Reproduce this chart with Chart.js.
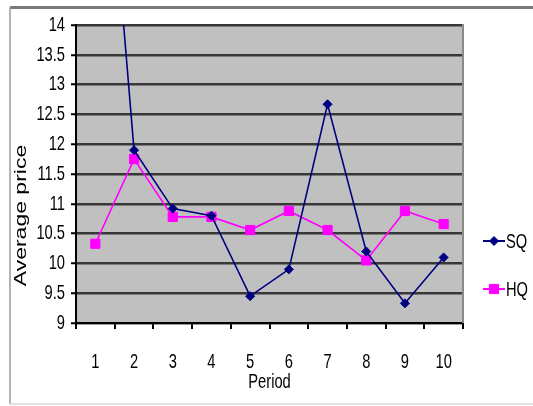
<!DOCTYPE html>
<html>
<head>
<meta charset="utf-8">
<script src="https://cdn.jsdelivr.net/npm/chart.js@4.4.0/dist/chart.umd.min.js"></script>
<style>
html,body{margin:0;padding:0;background:#fff;}
#wrap{width:533px;height:406px;}
</style>
</head>
<body>
<div id="wrap"><canvas id="c" width="533" height="406"></canvas></div>
<script>
const periods = ['1','2','3','4','5','6','7','8','9','10'];
const sqValues = [19.7, 11.9, 10.92, 10.8, 9.45, 9.9, 12.67, 10.2, 9.33, 10.1];
const hqValues = [10.33, 11.75, 10.78, 10.78, 10.56, 10.88, 10.56, 10.05, 10.88, 10.66];
const seriesNames = ['SQ', 'HQ'];
const yTitle = 'Average price';
const xTitle = 'Period';

const FONT = "'Liberation Sans', Arial, sans-serif";
const SQUEEZE = 0.7; // reference text is tall and narrow

const framePlugin = {
  id: 'frame',
  beforeInit(chart) {
    const ctx = chart.ctx;
    const orig = ctx.fillText;
    ctx.fillText = function (t, x, y, mw) {
      const m = this.getTransform();
      this.save();
      this.translate(x, y);
      if (Math.abs(m.b) > 0.5) this.scale(1, SQUEEZE); else this.scale(SQUEEZE, 1);
      if (mw !== undefined && mw !== null) orig.call(this, t, 0, 0, mw / SQUEEZE);
      else orig.call(this, t, 0, 0);
      this.restore();
    };
  },
  beforeDraw(chart) {
    const ctx = chart.ctx, a = chart.chartArea;
    ctx.save();
    ctx.fillStyle = '#ffffff';
    ctx.fillRect(0, 0, chart.width, chart.height);
    ctx.fillStyle = '#c0c0c0';
    ctx.fillRect(a.left, a.top, a.right - a.left, a.bottom - a.top);
    ctx.restore();
  },
  afterDraw(chart) {
    const ctx = chart.ctx, a = chart.chartArea;
    ctx.save();
    ctx.strokeStyle = '#8a8a8a';
    ctx.lineWidth = 2;
    ctx.beginPath();
    ctx.moveTo(a.right, a.top - 1);
    ctx.lineTo(a.right, a.bottom);
    ctx.stroke();
    ctx.strokeStyle = '#7a7a7a';
    ctx.lineWidth = 3;
    ctx.beginPath();
    ctx.moveTo(10, 7.5);
    ctx.lineTo(chart.width, 7.5);
    ctx.stroke();
    ctx.strokeStyle = '#9a9a9a';
    ctx.lineWidth = 1.5;
    ctx.beginPath();
    ctx.moveTo(10, 7);
    ctx.lineTo(10, 404);
    ctx.stroke();
    ctx.strokeStyle = '#d8d8d8';
    ctx.lineWidth = 1.5;
    ctx.beginPath();
    ctx.moveTo(10, 404);
    ctx.lineTo(chart.width, 404);
    ctx.stroke();
    const ys = [241, 289];
    chart.data.datasets.forEach((ds, i) => {
      const y = ys[i];
      ctx.strokeStyle = ds.borderColor;
      ctx.lineWidth = 2;
      ctx.beginPath();
      ctx.moveTo(483, y);
      ctx.lineTo(505, y);
      ctx.stroke();
      ctx.fillStyle = ds.pointBackgroundColor;
      ctx.strokeStyle = ds.pointBorderColor;
      ctx.lineWidth = 1;
      Chart.helpers.drawPoint(ctx, {pointStyle: ds.pointStyle, radius: ds.pointRadius, borderWidth: 1}, 494, y);
      ctx.fillStyle = '#000';
      ctx.font = '21px ' + FONT;
      ctx.textBaseline = 'middle';
      ctx.textAlign = 'left';
      ctx.fillText(ds.label, 506, y + 1);
    });
    ctx.restore();
  }
};

new Chart(document.getElementById('c'), {
  type: 'line',
  data: {
    labels: periods,
    datasets: [
      {
        label: seriesNames[0],
        data: sqValues,
        borderColor: '#000080',
        backgroundColor: '#000080',
        borderWidth: 1.6,
        pointStyle: 'rectRot',
        pointRadius: 4.5,
        pointBackgroundColor: '#000080',
        pointBorderColor: '#000080',
        pointBorderWidth: 1,
        tension: 0,
        fill: false
      },
      {
        label: seriesNames[1],
        data: hqValues,
        borderColor: '#ff00ff',
        backgroundColor: '#ff00ff',
        borderWidth: 1.6,
        pointStyle: 'rect',
        pointRadius: 6.5,
        pointBackgroundColor: '#ff00ff',
        pointBorderColor: '#ff00ff',
        pointBorderWidth: 1,
        tension: 0,
        fill: false
      }
    ]
  },
  options: {
    responsive: false,
    animation: false,
    events: [],
    layout: { padding: { top: 25, right: 70, left: 0, bottom: 0 } },
    plugins: {
      legend: { display: false },
      tooltip: { enabled: false }
    },
    scales: {
      x: {
        type: 'category',
        offset: true,
        grid: {
          display: true,
          offset: true,
          drawOnChartArea: false,
          drawTicks: true,
          tickLength: 6,
          tickColor: '#000',
          lineWidth: 2
        },
        border: { display: true, color: '#000', width: 2 },
        ticks: {
          color: '#000',
          font: { family: FONT, size: 21 },
          padding: 21,
          maxRotation: 0,
          autoSkip: false
        },
        title: {
          display: true,
          text: xTitle,
          color: '#000',
          font: { family: FONT, size: 21 },
          padding: { top: 0, bottom: 11 }
        },
        afterFit(scale) { scale.height = 83; }
      },
      y: {
        min: 9,
        max: 14,
        ticks: {
          stepSize: 0.5,
          color: '#000',
          font: { family: FONT, size: 21 },
          padding: 6,
          callback: (v) => String(Math.round(v * 10) / 10)
        },
        grid: {
          color: '#383838',
          lineWidth: 2.5,
          drawTicks: true,
          tickLength: 5,
          tickColor: '#000',
          tickWidth: 2
        },
        border: { display: true, color: '#000', width: 2 },
        title: {
          display: true,
          text: yTitle + '             ',
          color: '#000',
          font: { family: FONT, size: 23 },
          padding: { top: 8, bottom: 0 }
        },
        afterFit(scale) { scale.width = 76; }
      }
    }
  },
  plugins: [framePlugin]
});
</script>
</body>
</html>
